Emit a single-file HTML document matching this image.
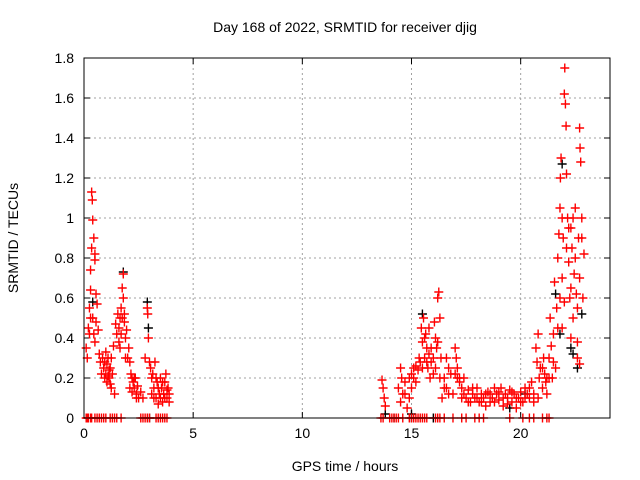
<!DOCTYPE html>
<html><head><meta charset="utf-8"><style>
html,body{margin:0;padding:0;background:#fff;}
svg{display:block;font-family:"Liberation Sans",sans-serif;}
</style></head><body>
<svg id="chart" width="640" height="480" viewBox="0 0 640 480" xmlns="http://www.w3.org/2000/svg">
<rect width="640" height="480" fill="#fff"/>
<g id="grid"></g>
<g id="ticks"></g>
<g id="black"></g>
<g id="red"></g>
<rect x="84" y="58" width="526" height="360" fill="none" stroke="#000" stroke-width="1"/>
<text x="345" y="32" font-size="14" text-anchor="middle">Day 168 of 2022, SRMTID for receiver djig</text>
<text x="345" y="471" font-size="14" text-anchor="middle">GPS time / hours</text>
<text x="18" y="238" font-size="14" text-anchor="middle" transform="rotate(-90 18 238)">SRMTID / TECUs</text>
</svg>
<script>
const xTicks=[0,5,10,15,20];
const yTicks=[0,0.2,0.4,0.6,0.8,1,1.2,1.4,1.6,1.8];
const yTickLabels=["0","0.2","0.4","0.6","0.8","1","1.2","1.4","1.6","1.8"];
const redHours=[0.1,0.15,0.2,0.25,0.3,0.3,0.35,0.35,0.38,0.4,0.45,0.5,0.5,0.55,0.4,0.45,0.5,0.55,0.6,0.65,0.7,0.75,0.8,0.85,0.9,0.95,1.0,1.05,1.1,1.15,1.2,1.25,1.3,1.35,1.4,1.45,1.5,1.55,1.6,1.65,1.7,1.75,1.8,1.8,1.85,1.9,1.95,2.0,2.05,2.1,2.15,2.2,2.25,2.3,2.35,2.4,2.45,2.5,2.6,2.7,2.8,2.9,2.92,2.95,3.0,3.05,3.1,3.15,3.2,3.25,3.3,3.35,3.4,3.45,3.5,3.55,3.6,3.65,3.7,3.75,3.8,3.85,3.9,
13.65,13.7,13.75,13.8,14.4,14.5,14.55,14.6,14.7,14.8,14.9,15.0,15.1,15.2,15.3,15.4,15.45,15.5,15.55,15.6,15.65,15.7,15.75,15.8,15.85,15.9,16.0,16.05,16.1,16.15,16.2,16.25,16.3,16.35,16.4,16.5,16.6,16.7,16.8,16.9,17.0,17.05,17.1,17.2,17.3,17.4,17.5,17.6,17.7,17.8,17.9,18.0,18.1,18.2,18.3,18.4,18.5,18.6,18.7,18.8,18.9,19.0,19.1,19.2,19.3,19.4,19.5,19.6,19.7,19.8,19.9,20.0,20.1,20.2,20.3,20.4,20.5,20.6,20.7,20.75,20.8,20.85,20.9,21.0,21.05,21.1,21.15,21.2,21.3,21.35,21.4,21.45,21.5,21.55,21.6,21.65,21.7,21.75,21.8,21.82,21.85,21.9,21.95,22.0,22.02,22.05,22.08,22.1,22.15,22.2,22.25,22.3,22.35,22.4,22.45,22.5,22.55,22.6,22.65,22.7,22.72,22.75,22.8,22.85,22.9,22.6,22.7,22.3,21.9,
0.95,1.0,1.05,1.1,1.15,1.2,1.25,1.6,1.65,1.7,1.75,1.85,1.9,2.1,2.2,2.3,2.4,3.1,3.2,3.3,3.4,3.5,3.6,3.7,3.8,3.9,0.25,0.3,
15.0,15.1,15.2,15.35,15.5,15.6,15.7,15.8,15.9,16.0,16.1,16.2,16.3,17.0,17.1,17.2,17.3,17.4,17.6,17.8,18.0,18.2,18.4,18.6,18.8,19.0,19.2,19.4,19.6,19.8,20.0,20.2,20.4,20.6,20.8,21.0,21.2,21.3,21.5,21.7,21.8,21.9,22.0,22.1,22.2,22.3,22.4,22.5,22.6,22.7,22.8,14.5,14.7,14.9,16.5,16.6,16.7,
0.1,0.2,0.3,0.5,0.6,0.7,0.9,1.0,1.4,1.5,1.7,2.6,2.7,2.8,3.3,3.4,3.5,3.6,3.8,13.6,13.7,14.1,14.3,14.6,14.9,15.0,15.1,15.2,15.3,15.4,16.2,16.3,16.5,16.9,17.3,17.5,17.9,18.1,18.3,20.1,20.4,20.6,21.0,21.2,
0.15,0.35,0.8,1.2,1.3,2.9,3.0,3.7,14.0,14.2,14.4,15.5,15.6,15.7,16.1,19.5,21.3];
const redValues=[0.35,0.3,0.45,0.55,0.64,0.74,0.85,1.13,1.09,0.99,0.9,0.82,0.79,0.62,0.5,0.42,0.38,0.48,0.57,0.44,0.32,0.28,0.22,0.3,0.25,0.2,0.33,0.27,0.21,0.24,0.17,0.3,0.22,0.36,0.12,0.47,0.42,0.52,0.38,0.5,0.55,0.65,0.72,0.6,0.48,0.4,0.44,0.3,0.35,0.28,0.22,0.2,0.18,0.15,0.2,0.12,0.16,0.1,0.13,0.1,0.3,0.55,0.52,0.4,0.28,0.25,0.2,0.22,0.15,0.28,0.1,0.18,0.07,0.12,0.2,0.15,0.08,0.12,0.18,0.22,0.1,0.15,0.08,
0.19,0.15,0.1,0.06,0.15,0.25,0.2,0.12,0.18,0.05,0.1,0.22,0.2,0.26,0.24,0.28,0.45,0.38,0.5,0.3,0.42,0.35,0.25,0.32,0.2,0.28,0.22,0.48,0.4,0.35,0.6,0.63,0.5,0.3,0.1,0.2,0.15,0.25,0.22,0.12,0.35,0.3,0.2,0.18,0.15,0.12,0.1,0.14,0.08,0.12,0.1,0.15,0.08,0.12,0.1,0.06,0.13,0.08,0.1,0.15,0.12,0.09,0.15,0.06,0.12,0.1,0.14,0.08,0.12,0.05,0.1,0.13,0.08,0.15,0.12,0.1,0.18,0.12,0.35,0.28,0.42,0.2,0.25,0.15,0.3,0.22,0.18,0.2,0.3,0.5,0.36,0.2,0.42,0.68,0.25,0.55,0.8,0.92,1.05,1.2,1.3,0.7,0.9,1.62,1.75,1.57,1.46,1.22,1.0,0.78,0.6,0.95,0.85,0.5,0.72,1.05,0.62,0.38,0.9,1.45,1.35,1.28,1.0,0.6,0.82,0.3,0.27,0.4,0.45,
0.28,0.22,0.18,0.3,0.2,0.25,0.15,0.45,0.35,0.42,0.5,0.52,0.3,0.15,0.13,0.2,0.1,0.12,0.1,0.2,0.15,0.1,0.18,0.1,0.14,0.12,0.42,0.5,
0.15,0.25,0.18,0.3,0.25,0.4,0.28,0.45,0.35,0.3,0.25,0.38,0.2,0.22,0.25,0.2,0.1,0.2,0.08,0.15,0.1,0.08,0.12,0.12,0.08,0.13,0.1,0.07,0.13,0.1,0.08,0.1,0.15,0.08,0.1,0.25,0.12,0.2,0.28,0.45,0.6,1.0,0.58,0.85,0.95,0.65,1.0,0.8,0.55,0.7,0.9,0.08,0.12,0.2,0.15,0.3,0.12,
0,0,0,0,0,0,0,0,0,0,0,0,0,0,0,0,0,0,0,0,0,0,0,0,0,0,0,0,0,0,0,0,0,0,0,0,0,0,0,0,0,0,0,0,
0,0,0,0,0,0,0,0,0,0,0,0,0,0,0,0,0];
const blackHours=[0.4,1.8,2.9,2.95,15.5,21.6,21.8,22.3,22.4,22.6,13.8,15.0,20.2,19.5,22.8,21.9,3.0,15.0,16.0,14.2];
const blackValues=[0.58,0.73,0.58,0.45,0.52,0.62,0.42,0.35,0.32,0.25,0.02,0.02,0.12,0.05,0.52,1.27,0,0,0,0];
const X0=84,X1=608,Y0=418,Y1=58;
function xs(h){return X0+(h/24)*(X1-X0);}
function ys(v){return Y0-(v/1.8)*(Y0-Y1);}
const NS="http://www.w3.org/2000/svg";
function mk(tag,attrs,parent){const e=document.createElementNS(NS,tag);for(const k in attrs)e.setAttribute(k,attrs[k]);parent.appendChild(e);return e;}
const grid=document.getElementById('grid'),ticks=document.getElementById('ticks');
xTicks.forEach(t=>{const x=xs(t);
 if(t>0){const g=mk('line',{x1:x,x2:x,y1:Y1,y2:Y0,stroke:'#a0a0a0','stroke-dasharray':'2,3'},grid);
 
 }
 mk('line',{x1:x,x2:x,y1:Y0,y2:Y0-6,stroke:'#000'},ticks);
 mk('line',{x1:x,x2:x,y1:Y1,y2:Y1+6,stroke:'#000'},ticks);
 const tx=mk('text',{x:x,y:Y0+20,'font-size':14,'text-anchor':'middle'},ticks);tx.textContent=t;
 
 
});
yTicks.forEach((t,i)=>{const y=ys(t);
 if(t>0&&t<1.8){const g=mk('line',{x1:X0,x2:610,y1:y,y2:y,stroke:'#a0a0a0','stroke-dasharray':'2,3'},grid);
 
 }
 mk('line',{x1:X0,x2:X0+6,y1:y,y2:y,stroke:'#000'},ticks);
 mk('line',{x1:610,x2:604,y1:y,y2:y,stroke:'#000'},ticks);
 const tx=mk('text',{x:X0-10,y:y+5,'font-size':14,'text-anchor':'end'},ticks);tx.textContent=yTickLabels[i];
 
 
});
function plus(g,h,v,c){const x=xs(h),y=ys(v);
 const p=mk('path',{d:`M${x-4.5},${y}H${x+4.5}M${x},${y-4.5}V${y+4.5}`,stroke:c,'stroke-width':1.4,fill:'none'},g);
 
 }
const bg=document.getElementById('black'),rg=document.getElementById('red');
blackHours.forEach((h,i)=>plus(bg,h,blackValues[i],'#000'));
redHours.forEach((h,i)=>plus(rg,h,redValues[i],'#ff0000'));
</script>
</body></html>
